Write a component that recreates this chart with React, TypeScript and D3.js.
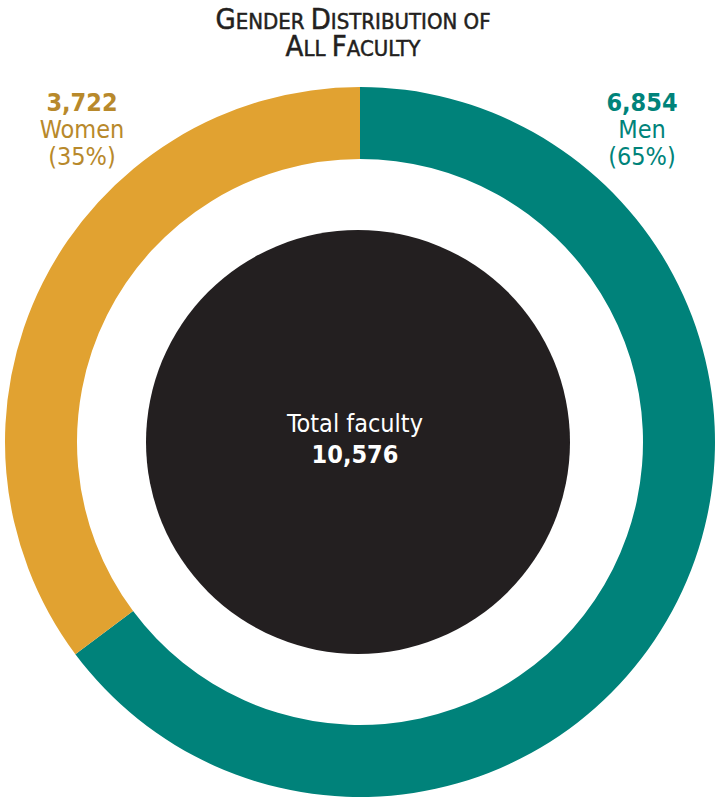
import React from "react";
import * as d3 from "d3";

const categories = ["Men", "Women"];
const values = [6854, 3722];
const percentLabels = ["(65%)", "(35%)"];
const colors = ["#00827A", "#E1A231"];
const labelColors = ["#00837A", "#B8892B"];
const totalLabel = "Total faculty";
const totalValue = "10,576";
const titleLines = [
  ["Gender", "Distribution", "of"],
  ["All", "Faculty"],
];

const W = 718;
const H = 799;
const cx = 360;
const cy = 442;
const rOuter = 355;
const rInner = 283;
const rCore = 212;
const font = "'DejaVu Sans Condensed', 'Liberation Sans Narrow', sans-serif";

export default function App() {
  const pie = d3.pie<number>().sort(null).startAngle(0).endAngle(2 * Math.PI);
  const arcs = pie(values);
  const arc = d3.arc<d3.PieArcDatum<number>>().innerRadius(rInner).outerRadius(rOuter);
  const fmt = d3.format(",");
  const labelPos = [
    { x: 642, y: 111 },
    { x: 82, y: 111 },
  ];
  const renderSC = (word: string, i: number, len: number) => {
    const isCap = word[0] === word[0].toUpperCase();
    return (
      <React.Fragment key={i}>
        {isCap && <tspan fontSize={29}>{word[0].toUpperCase()}</tspan>}
        <tspan fontSize={22}>{(isCap ? word.slice(1) : word).toUpperCase() + (i < len - 1 ? " " : "")}</tspan>
      </React.Fragment>
    );
  };
  return (
    <svg width={W} height={H} style={{ position: "absolute", left: 0, top: 0 }} fontFamily={font}>
      <rect width={W} height={H} fill="#fff" />
      {titleLines.map((line, li) => (
        <text key={li} x={353} y={29 + li * 27} textAnchor="middle" fill="#231F20" stroke="#231F20" strokeWidth={0.5}>
          {line.map((w, i) => renderSC(w, i, line.length))}
        </text>
      ))}
      <g transform={`translate(${cx},${cy})`}>
        {arcs.map((a, i) => (
          <path key={categories[i]} d={arc(a) || ""} fill={colors[i]} />
        ))}
        <circle r={rCore} cx={-2} fill="#231F20" />
        <text x={-5} y={-10} textAnchor="middle" fill="#fff" fontSize={25}>{totalLabel}</text>
        <text x={-5} y={21} textAnchor="middle" fill="#fff" fontSize={25} fontWeight="bold">{totalValue}</text>
      </g>
      {categories.map((c, i) => (
        <g key={c} fill={labelColors[i]} fontSize={25}>
          <text x={labelPos[i].x} y={labelPos[i].y} textAnchor="middle" fontWeight="bold">{fmt(values[i])}</text>
          <text x={labelPos[i].x} y={labelPos[i].y + 27} textAnchor="middle">{c}</text>
          <text x={labelPos[i].x} y={labelPos[i].y + 54} textAnchor="middle">{percentLabels[i]}</text>
        </g>
      ))}
    </svg>
  );
}
